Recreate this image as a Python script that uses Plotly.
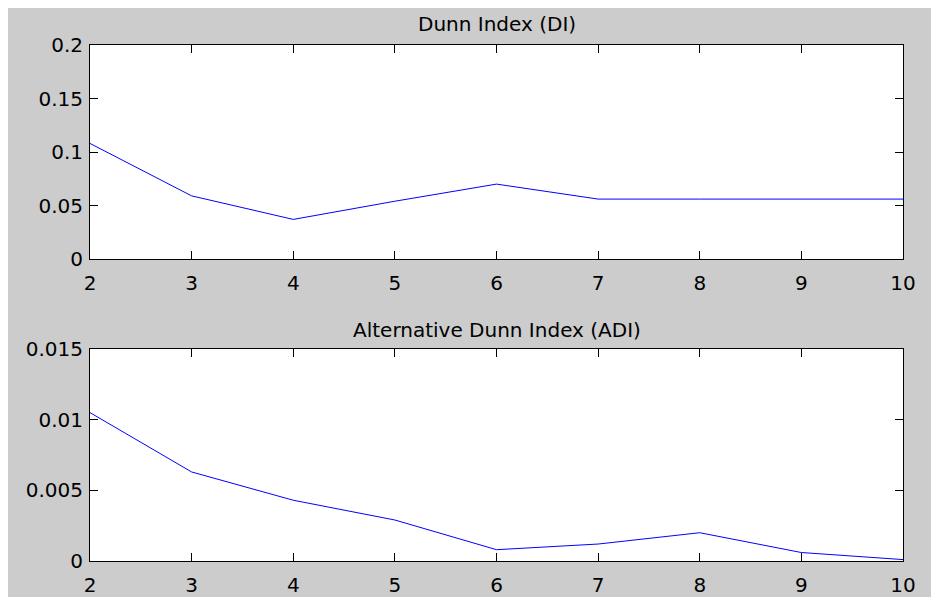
import plotly.graph_objects as go

x_vals = [2, 3, 4, 5, 6, 7, 8, 9, 10]
dunn_index = [0.108, 0.059, 0.037, 0.054, 0.070, 0.056, 0.056, 0.056, 0.056]
alt_dunn_index = [0.0105, 0.0063, 0.0043, 0.0029, 0.0008, 0.0012, 0.0020, 0.0006, 0.0001]
title_top = "Dunn Index (DI)"
title_bottom = "Alternative Dunn Index (ADI)"
top_ticks = [0, 0.05, 0.1, 0.15, 0.2]
top_ticktext = ["0", "0.05", "0.1", "0.15", "0.2"]
bot_ticks = [0, 0.005, 0.01, 0.015]
bot_ticktext = ["0", "0.005", "0.01", "0.015"]

W, H = 931, 597
ML, MR, MT, MB = 90, 28, 45, 36
PW, PH = W - ML - MR, H - MT - MB

def py(pix):  # pixel from top -> paper y
    return (H - MB - pix) / PH

def px(pix):
    return (pix - ML) / PW

font = dict(family="DejaVu Sans", size=20, color="black")

fig = go.Figure()
fig.add_trace(go.Scatter(x=x_vals, y=dunn_index, mode="lines",
                         line=dict(color="#0000ff", width=1), xaxis="x", yaxis="y"))
fig.add_trace(go.Scatter(x=x_vals, y=alt_dunn_index, mode="lines",
                         line=dict(color="#0000ff", width=1), xaxis="x2", yaxis="y2"))

axis_common = dict(showline=True, linecolor="black", linewidth=1, mirror="ticks",
                   ticks="inside", ticklen=8, tickcolor="black", tickwidth=1,
                   showgrid=False, zeroline=False, tickfont=font, automargin=False)

fig.update_layout(
    width=W, height=H,
    margin=dict(l=ML, r=MR, t=MT, b=MB),
    paper_bgcolor="white", plot_bgcolor="white",
    showlegend=False,
    xaxis=dict(domain=[0, 1], range=[2, 10], tickvals=x_vals, anchor="y",
               ticklabelstandoff=6, **axis_common),
    yaxis=dict(domain=[py(259), 1], range=[0, 0.2], tickvals=top_ticks,
               ticktext=top_ticktext, anchor="x", ticklabelstandoff=2, **axis_common),
    xaxis2=dict(domain=[0, 1], range=[2, 10], tickvals=x_vals, anchor="y2",
                ticklabelstandoff=6, **axis_common),
    yaxis2=dict(domain=[0, py(349)], range=[0, 0.015], tickvals=bot_ticks,
                ticktext=bot_ticktext, anchor="x2", ticklabelstandoff=2, **axis_common),
    shapes=[
        dict(type="rect", xref="paper", yref="paper",
             x0=px(8), x1=px(W + 2), y0=py(H + 2), y1=py(8),
             fillcolor="#cccccc", line=dict(width=0), layer="below"),
        dict(type="rect", xref="x domain", yref="y domain", x0=0, x1=1, y0=0, y1=1,
             fillcolor="white", line=dict(width=0), layer="below"),
        dict(type="rect", xref="x2 domain", yref="y2 domain", x0=0, x1=1, y0=0, y1=1,
             fillcolor="white", line=dict(width=0), layer="below"),
    ],
    annotations=[
        dict(text=title_top, xref="paper", yref="paper", x=0.5, y=py(24),
             showarrow=False, font=font, xanchor="center", yanchor="middle"),
        dict(text=title_bottom, xref="paper", yref="paper", x=0.5, y=py(330),
             showarrow=False, font=font, xanchor="center", yanchor="middle"),
    ],
)

fig.write_html("out.html")
